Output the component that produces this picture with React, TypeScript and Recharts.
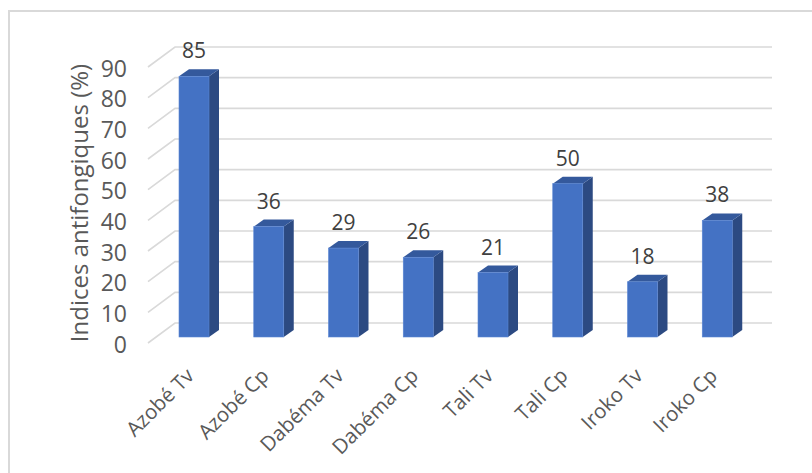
import React from "react";
import { Bar, BarChart, CartesianGrid, LabelList, XAxis, YAxis } from "recharts";

const categories = [
  "Azobé Tv",
  "Azobé Cp",
  "Dabéma Tv",
  "Dabéma Cp",
  "Tali Tv",
  "Tali Cp",
  "Iroko Tv",
  "Iroko Cp",
];
const indices = [85, 36, 29, 26, 21, 50, 18, 38];
const yTicks = [0, 10, 20, 30, 40, 50, 60, 70, 80, 90];

const FONT = "'Open Sans', 'Noto Sans', sans-serif";
const DX = 10;
const DY = -7;

const data = categories.map((name, i) => ({ name, value: indices[i] }));

function Bar3D(props: any) {
  const { x, y, width, height } = props;
  if (height <= 0) return null;
  const r = x + width;
  const b = y + height;
  return (
    <g>
      <polygon
        points={`${r},${y} ${r + DX},${y + DY} ${r + DX},${b + DY} ${r},${b}`}
        fill="#2c4a82"
      />
      <polygon
        points={`${x},${y} ${x + DX},${y + DY} ${r + DX},${y + DY} ${r},${y}`}
        fill="#34599c"
      />
      <rect x={x} y={y} width={width} height={height} fill="#4472c4" stroke="#5a86d4" strokeWidth={0.6} />
    </g>
  );
}

function GridLine(props: any) {
  const { x1, x2, y1 } = props;
  return (
    <path
      key={props.key}
      d={`M${x1 - 9},${y1 + 6} L${x1 + 18},${y1 - 14} L${x2 + 17},${y1 - 14}`}
      fill="none"
      stroke="#d9d9d9"
      strokeWidth={1.6}
    />
  );
}

function YTick(props: any) {
  const { y, payload } = props;
  return (
    <text x={127} y={y + 6.5} textAnchor="end" dominantBaseline="central" fontSize={23} fill="#595959" fontFamily={FONT}>
      {payload.value}
    </text>
  );
}

function XTick(props: any) {
  const { x, y, payload } = props;
  return (
    <text
      transform={`translate(${x + 1},${y + 40}) rotate(-45)`}
      textAnchor="end"
      fontSize={20.5}
      fill="#595959"
      fontFamily={FONT}
    >
      {payload.value}
    </text>
  );
}

function ValueLabel(props: any) {
  const { x, y, width, value } = props;
  return (
    <text x={x + width / 2} y={y - 18} textAnchor="middle" fontSize={21} fill="#404040" fontFamily={FONT}>
      {value}
    </text>
  );
}

export default function App() {
  return (
    <div style={{ position: "absolute", left: 0, top: 0, width: 812, height: 473, background: "#fff", overflow: "hidden" }}>
      <div
        style={{
          position: "absolute",
          left: 8,
          top: 10,
          width: 820,
          height: 480,
          border: "2px solid #d9d9d9",
          boxSizing: "border-box",
        }}
      />
      <div style={{ position: "absolute", left: 0, top: 0 }}>
        <BarChart width={812} height={473} data={data} margin={{ top: 61, right: 57, bottom: 0, left: 0 }}>
          <CartesianGrid vertical={false} horizontal={GridLine} />
          <XAxis
            dataKey="name"
            height={136}
            axisLine={false}
            tickLine={false}
            tickSize={0}
            tickMargin={0}
            interval={0}
            tick={XTick}
          />
          <YAxis
            width={157}
            domain={[0, 90]}
            ticks={yTicks}
            axisLine={false}
            tickLine={false}
            tick={YTick}
            label={() => (
              <text
                transform="translate(78,203) rotate(-90)"
                textAnchor="middle"
                dominantBaseline="central"
                fontSize={24}
                fill="#595959"
                fontFamily={FONT}
              >
                Indices antifongiques (%)
              </text>
            )}
          />
          <Bar dataKey="value" barSize={30} shape={Bar3D} isAnimationActive={false}>
            <LabelList dataKey="value" content={ValueLabel} />
          </Bar>
        </BarChart>
      </div>
    </div>
  );
}
